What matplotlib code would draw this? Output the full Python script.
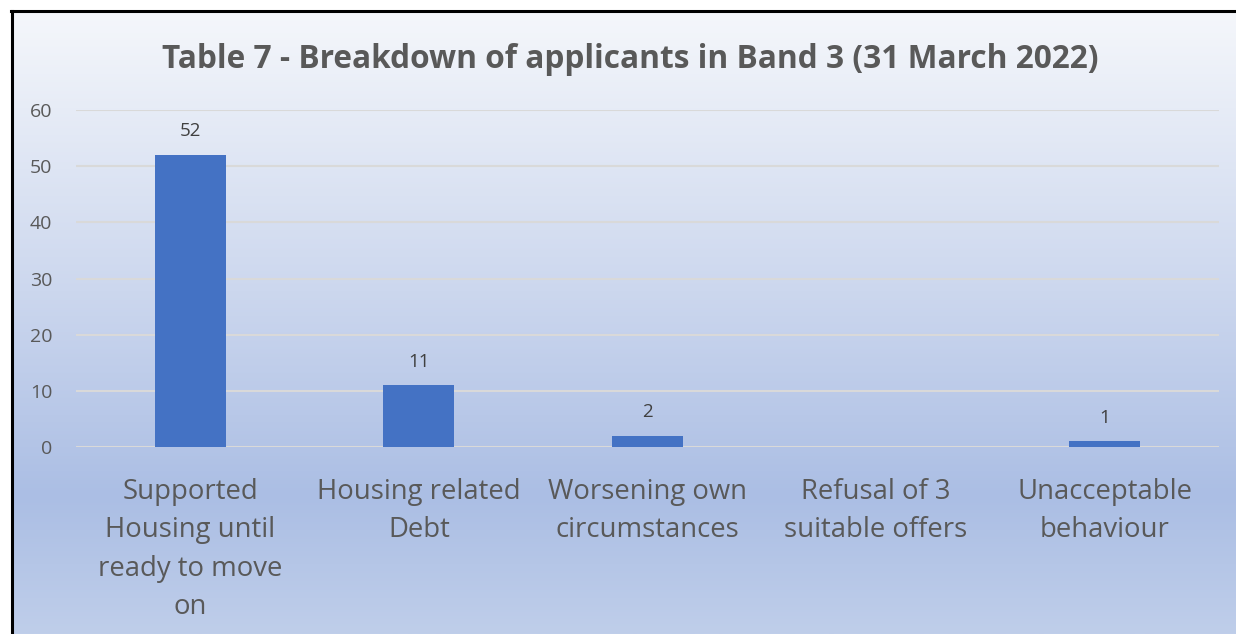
import numpy as np
import matplotlib
matplotlib.use("Agg")
import matplotlib.pyplot as plt
from matplotlib.colors import LinearSegmentedColormap
from matplotlib.lines import Line2D

categories = ["Supported\nHousing until\nready to move\non", "Housing related\nDebt",
              "Worsening own\ncircumstances", "Refusal of 3\nsuitable offers",
              "Unacceptable\nbehaviour"]
values = [52, 11, 2, np.nan, 1]
yticks = [0, 10, 20, 30, 40, 50, 60]
title = "Table 7 - Breakdown of applicants in Band 3 (31 March 2022)"

W, H, DPI = 1236, 634, 100
fig = plt.figure(figsize=(W / DPI, H / DPI), dpi=DPI)
fig.patch.set_facecolor("white")
font = ["Open Sans", "DejaVu Sans"]

# gradient background
bg = fig.add_axes([11 / W, 0, 1 - 11 / W, 1 - 11 / H], zorder=0)
cmap = LinearSegmentedColormap.from_list(
    "bg", [(0, "#F5F7FB"), (0.45, "#CCD7EE"), (0.78, "#ABBEE4"), (1.0, "#BFCEEA")])
grad = np.linspace(0, 1, 256).reshape(-1, 1)
bg.imshow(grad, aspect="auto", cmap=cmap, extent=[0, 1, 0, 1], origin="upper")
bg.set_axis_off()

# border lines (top and left)
fig.add_artist(Line2D([11 / W, 1], [1 - 11 / H, 1 - 11 / H], color="black", lw=2.2,
                      transform=fig.transFigure))
fig.add_artist(Line2D([12 / W, 12 / W], [0, 1 - 11 / H], color="black", lw=2.2,
                      transform=fig.transFigure))

x0, x1 = 76, 1219
y60, y0 = 110, 447
ax = fig.add_axes([x0 / W, 1 - y0 / H, (x1 - x0) / W, (y0 - y60) / H], zorder=1)
ax.patch.set_alpha(0)
x = np.arange(len(categories))
ax.bar(x, values, width=0.31, color="#4472C4", zorder=3)
for xi, v in zip(x, values):
    if not np.isnan(v):
        ax.text(xi, v + 2.6, f"{int(v)}", ha="center", va="bottom", fontsize=13.5,
                color="#404040", family=font)
ax.set_xlim(-0.5, len(categories) - 0.5)
ax.set_ylim(0, 60)
ax.set_yticks(yticks)
ax.set_yticklabels([str(t) for t in yticks], fontsize=14, color="#595959", family=font)
for t in yticks:
    ax.axhline(t, color="#D9D9D9", lw=1.5, zorder=1)
ax.set_xticks(x)
ax.set_xticklabels(categories, fontsize=19.8, color="#595959", family=font, linespacing=1.5,
                   va="top")
ax.tick_params(axis="both", length=0)
ax.tick_params(axis="y", pad=17)
ax.tick_params(axis="x", pad=22)
for s in ax.spines.values():
    s.set_visible(False)

fig.text(630 / W, 1 - 59 / H, title, ha="center", va="center", fontsize=22.8,
         fontweight="bold", color="#595959", family=font)

fig.savefig("out.png", dpi=DPI)
